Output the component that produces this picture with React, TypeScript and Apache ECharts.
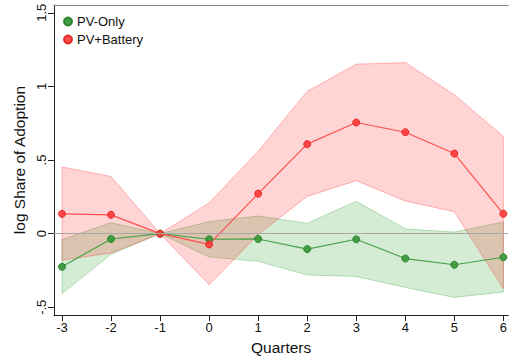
import React, { useEffect, useRef } from "react";
import * as echarts from "echarts";

const quarters = [-3, -2, -1, 0, 1, 2, 3, 4, 5, 6];
const yTicks = [-0.5, 0, 0.5, 1, 1.5];
const yTickLabels = ["-.5", "0", ".5", "1", "1.5"];

const pvOnly = [-0.225, -0.036, 0, -0.038, -0.036, -0.105, -0.038, -0.169, -0.211, -0.16];
const pvOnlyLo = [-0.407, -0.14, 0, -0.158, -0.188, -0.28, -0.291, -0.365, -0.433, -0.396];
const pvOnlyHi = [-0.04, 0.075, 0, 0.082, 0.12, 0.071, 0.22, 0.033, 0.011, 0.08];

const pvBat = [0.135, 0.128, 0, -0.073, 0.272, 0.608, 0.755, 0.689, 0.544, 0.135];
const pvBatLo = [-0.18, -0.131, 0, -0.347, -0.005, 0.253, 0.36, 0.222, 0.149, -0.373];
const pvBatHi = [0.453, 0.389, 0, 0.209, 0.56, 0.967, 1.151, 1.162, 0.944, 0.66];

const FONT = "Liberation Sans, Arial, sans-serif";

function pairs(ys: number[]) {
  return quarters.map((q, i) => [q, ys[i]]);
}
function bandData(lo: number[], hi: number[]) {
  return quarters.map((q, i) => [q, lo[i], hi[i]]);
}

function bandSeries(name: string, lo: number[], hi: number[], fill: string, edge: string) {
  return {
    name,
    type: "custom",
    silent: true,
    data: bandData(lo, hi),
    encode: { x: 0, y: [1, 2] },
    renderItem: (params: any, api: any) => {
      if (params.dataIndex !== 0) return null;
      const pts: number[][] = [];
      for (let i = 0; i < quarters.length; i++) pts.push(api.coord([quarters[i], hi[i]]));
      for (let i = quarters.length - 1; i >= 0; i--) pts.push(api.coord([quarters[i], lo[i]]));
      return {
        type: "polygon",
        shape: { points: pts },
        style: { fill, stroke: edge, lineWidth: 1 },
      };
    },
  };
}

export default function App() {
  const ref = useRef<HTMLDivElement>(null);
  useEffect(() => {
    if (!ref.current) return;
    const chart = echarts.init(ref.current, undefined, { renderer: "svg" });
    chart.setOption({
      animation: false,
      backgroundColor: "#ffffff",
      textStyle: { fontFamily: FONT },
      grid: { left: 54, right: 0, top: 5, bottom: 40, containLabel: false },
      legend: {
        data: ["PV-Only", "PV+Battery"],
        orient: "vertical",
        left: 58,
        top: 10,
        icon: "circle",
        itemWidth: 8,
        itemHeight: 8,
        itemGap: 5,
        textStyle: { fontSize: 13, color: "#111", fontFamily: FONT },
      },
      xAxis: [
        {
          type: "value",
          min: -3.163,
          max: 6.1,
          name: "Quarters",
          nameLocation: "middle",
          nameGap: 22,
          nameTextStyle: { fontSize: 15.5, color: "#111", fontFamily: FONT },
          axisLine: { show: true, onZero: false, lineStyle: { color: "#222", width: 1 } },
          axisTick: { show: true, length: 6, customValues: quarters, lineStyle: { color: "#222" } },
          axisLabel: {
            customValues: quarters,
            fontSize: 13,
            color: "#111",
            margin: 6,
            fontFamily: FONT,
          },
          splitLine: { show: false },
        },
        {
          type: "value",
          position: "top",
          min: -3.163,
          max: 6.1,
          axisLine: { show: true, onZero: false, lineStyle: { color: "#888", width: 1 } },
          axisTick: { show: false },
          axisLabel: { show: false },
          splitLine: { show: false },
        },
      ],
      yAxis: {
        type: "value",
        min: -0.553,
        max: 1.553,
        name: "log Share of Adoption",
        nameLocation: "middle",
        nameGap: 19,
        nameTextStyle: { fontSize: 15.5, color: "#111", fontFamily: FONT },
        axisLine: { show: true, onZero: false, lineStyle: { color: "#222", width: 1 } },
        axisTick: { show: true, length: 6, customValues: yTicks, lineStyle: { color: "#222" } },
        axisLabel: {
          customValues: yTicks,
          rotate: 90,
          fontSize: 13,
          color: "#111",
          margin: 6,
          fontFamily: FONT,
          formatter: (v: number) => {
            const i = yTicks.findIndex((t) => Math.abs(t - v) < 1e-6);
            return i >= 0 ? yTickLabels[i] : "";
          },
        },
        splitLine: { show: false },
      },
      series: [
        bandSeries("gBand", pvOnlyLo, pvOnlyHi, "rgba(0,140,0,0.17)", "rgba(0,140,0,0.24)"),
        bandSeries("rBand", pvBatLo, pvBatHi, "rgba(255,0,0,0.17)", "rgba(255,0,0,0.26)"),
        {
          name: "PV-Only",
          type: "line",
          data: pairs(pvOnly),
          symbol: "circle",
          symbolSize: 7,
          lineStyle: { color: "#45a345", width: 1.2 },
          itemStyle: { color: "#3c9a3c", borderColor: "#2b7f2b", borderWidth: 1, opacity: 0.95 },
          markLine: {
            silent: true,
            symbol: "none",
            label: { show: false },
            lineStyle: { color: "#a8a8a8", width: 1, type: "solid" },
            data: [{ yAxis: 0 }],
          },
        },
        {
          name: "PV+Battery",
          type: "line",
          data: pairs(pvBat),
          symbol: "circle",
          symbolSize: 7,
          lineStyle: { color: "#ff5050", width: 1.2 },
          itemStyle: { color: "#ff3a3a", borderColor: "#e02020", borderWidth: 1, opacity: 0.9 },
        },
      ],
    });
    return () => chart.dispose();
  }, []);
  return (
    <div
      ref={ref}
      style={{ position: "absolute", left: 0, top: 0, width: 510, height: 360 }}
    />
  );
}
